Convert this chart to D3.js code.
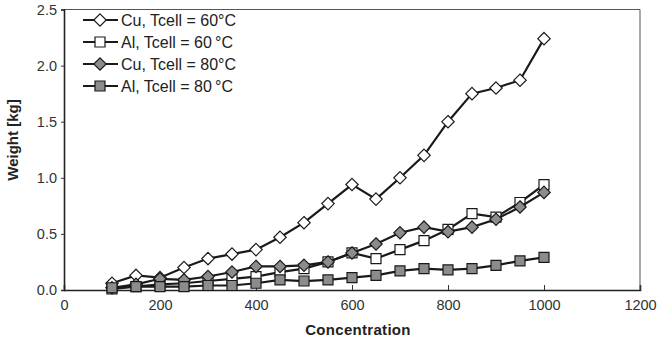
<!DOCTYPE html>
<html><head><meta charset="utf-8">
<script src="https://cdn.jsdelivr.net/npm/d3@7"></script>
<style>body{margin:0;background:#fff}svg{display:block}text{font-family:"Liberation Sans",Arial,sans-serif}</style>
</head><body><svg id="c" width="660" height="346"></svg>
<script>
const concentration = [100,150,200,250,300,350,400,450,500,550,600,650,700,750,800,850,900,950,1000];
const cu60 = [0.06,0.13,0.11,0.20,0.28,0.32,0.36,0.47,0.60,0.77,0.94,0.81,1.00,1.20,1.50,1.75,1.80,1.87,2.24];
const al60 = [0.01,0.03,0.05,0.06,0.08,0.10,0.12,0.16,0.19,0.25,0.33,0.28,0.36,0.44,0.54,0.68,0.65,0.78,0.94];
const cu80 = [0.02,0.05,0.10,0.09,0.12,0.16,0.21,0.21,0.22,0.25,0.33,0.41,0.51,0.56,0.52,0.56,0.63,0.74,0.87];
const al80 = [0.02,0.03,0.03,0.03,0.04,0.04,0.06,0.09,0.08,0.09,0.11,0.13,0.17,0.19,0.18,0.19,0.22,0.26,0.29];
const seriesNames = ["Cu, Tcell = 60\u00B0C","Al, Tcell = 60\u2009\u00B0C","Cu, Tcell = 80\u00B0C","Al, Tcell = 80\u2009\u00B0C"];
const xTicks = [0,200,400,600,800,1000,1200];
const yTicks = [0,0.5,1.0,1.5,2.0,2.5];

const series = [
  {name:seriesNames[0], vals:cu60, shape:"diamond", fill:"#fff"},
  {name:seriesNames[1], vals:al60, shape:"square", fill:"#fff"},
  {name:seriesNames[2], vals:cu80, shape:"diamond", fill:"#8c8c8c"},
  {name:seriesNames[3], vals:al80, shape:"square", fill:"#8c8c8c"}
];

const svg = d3.select("#c");
const L=64, R=640, T=9.5, B=290;
const x = d3.scaleLinear().domain([0,1200]).range([L,R]);
const y = d3.scaleLinear().domain([0,2.5]).range([B,T]);

// frame
svg.append("line").attr("x1",L).attr("x2",R).attr("y1",T).attr("y2",T).attr("stroke","#555").attr("stroke-width",1);
svg.append("line").attr("x1",R).attr("x2",R).attr("y1",T).attr("y2",B).attr("stroke","#555").attr("stroke-width",1);

const xAxis = svg.append("g").attr("transform",`translate(0,${B})`)
  .call(d3.axisBottom(x).tickValues(xTicks).tickSize(-5).tickPadding(10).tickFormat(d3.format("d")));
const yAxis = svg.append("g").attr("transform",`translate(${L},0)`)
  .call(d3.axisLeft(y).tickValues(yTicks).tickSize(3).tickPadding(4).tickFormat(d3.format(".1f")));
[xAxis,yAxis].forEach(g=>{
  g.select(".domain").attr("stroke","#222").attr("stroke-width",1.6);
  g.selectAll(".tick line").attr("stroke","#333");
  g.selectAll(".tick text").attr("fill","#333").style("font-size","14.5px");
});

svg.append("text").attr("x",358).attr("y",335).attr("text-anchor","middle")
  .style("font-size","15px").style("font-weight","bold").style("letter-spacing","0.3px").attr("fill","#222").text("Concentration");
svg.append("text").attr("transform",`translate(18,140) rotate(-90)`).attr("text-anchor","middle")
  .style("font-size","15px").style("font-weight","bold").attr("fill","#222").text("Weight [kg]");

function diamondPath(r){return `M0,${-r}L${r},0L0,${r}L${-r},0Z`;}
function shapePath(s){return s==="diamond"? diamondPath(6.2) : "M-5,-5H5V5H-5Z";}

const line = d3.line().x((d,i)=>x(concentration[i])).y(d=>y(d));
series.forEach(s=>{
  const g = svg.append("g");
  g.append("path").attr("d",line(s.vals)).attr("fill","none").attr("stroke","#1a1a1a").attr("stroke-width",2.2);
  g.selectAll("path.m").data(s.vals).join("path").attr("class","m")
    .attr("transform",(d,i)=>`translate(${x(concentration[i])},${y(d)})`)
    .attr("d",shapePath(s.shape)).attr("fill",s.fill).attr("stroke","#1a1a1a").attr("stroke-width",1.2);
});

// legend
const lg = svg.append("g");
series.forEach((s,i)=>{
  const yy = 20 + i*22;
  lg.append("line").attr("x1",83).attr("x2",118).attr("y1",yy).attr("y2",yy).attr("stroke","#1a1a1a").attr("stroke-width",2);
  lg.append("path").attr("transform",`translate(100,${yy})`).attr("d",shapePath(s.shape))
    .attr("fill",s.fill).attr("stroke","#1a1a1a").attr("stroke-width",1.2);
  lg.append("text").attr("x",121).attr("y",yy+5.5).style("font-size","16px").attr("fill","#222").text(s.name);
});
</script></body></html>
